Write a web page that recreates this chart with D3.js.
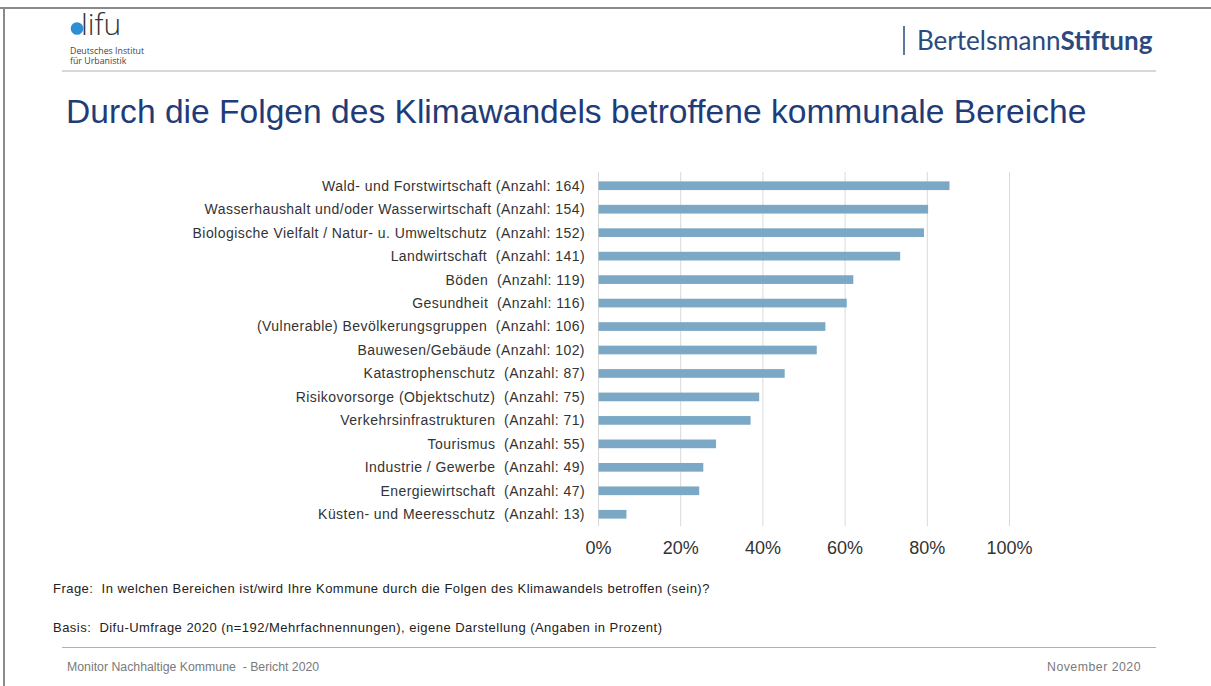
<!DOCTYPE html>
<html><head><meta charset="utf-8">
<script src="https://cdn.jsdelivr.net/npm/d3@7"></script>
<style>
html,body{margin:0;padding:0;background:#fff;}
svg text{white-space:pre;}
</style></head>
<body>
<svg id="c" width="1211" height="686"></svg>
<script>
const categories = [
  "Wald- und Forstwirtschaft (Anzahl: 164)",
  "Wasserhaushalt und/oder Wasserwirtschaft (Anzahl: 154)",
  "Biologische Vielfalt / Natur- u. Umweltschutz  (Anzahl: 152)",
  "Landwirtschaft  (Anzahl: 141)",
  "Böden  (Anzahl: 119)",
  "Gesundheit  (Anzahl: 116)",
  "(Vulnerable) Bevölkerungsgruppen  (Anzahl: 106)",
  "Bauwesen/Gebäude (Anzahl: 102)",
  "Katastrophenschutz  (Anzahl: 87)",
  "Risikovorsorge (Objektschutz)  (Anzahl: 75)",
  "Verkehrsinfrastrukturen  (Anzahl: 71)",
  "Tourismus  (Anzahl: 55)",
  "Industrie / Gewerbe  (Anzahl: 49)",
  "Energiewirtschaft  (Anzahl: 47)",
  "Küsten- und Meeresschutz  (Anzahl: 13)"
];
const percentValues = [85.4, 80.2, 79.2, 73.4, 62.0, 60.4, 55.2, 53.1, 45.3, 39.1, 37.0, 28.6, 25.5, 24.5, 6.8];
const tickValues = [0, 20, 40, 60, 80, 100];
const tickLabels = ["0%", "20%", "40%", "60%", "80%", "100%"];

const svg = d3.select("#c");
const F = "'Liberation Sans', Arial, sans-serif";

// frame
svg.append("line").attr("x1",0).attr("x2",1211).attr("y1",8).attr("y2",8).attr("stroke","#8a8a8a").attr("stroke-width",2);
svg.append("line").attr("x1",4).attr("x2",4).attr("y1",8).attr("y2",686).attr("stroke","#8a8a8a").attr("stroke-width",2);

// header separator & footer separator
svg.append("line").attr("x1",62).attr("x2",1156).attr("y1",71).attr("y2",71).attr("stroke","#b0b0b0").attr("stroke-width",1);
svg.append("line").attr("x1",62).attr("x2",1156).attr("y1",647.5).attr("y2",647.5).attr("stroke","#b0b0b0").attr("stroke-width",1);

// difu logo
svg.append("circle").attr("cx",77).attr("cy",28.5).attr("r",6.3).attr("fill","#2c8fd6");
svg.append("text").attr("x",81).attr("y",35).attr("font-family","'Open Sans', sans-serif").attr("font-size",30).attr("font-weight",300).attr("fill","#333").text("lifu");
svg.append("text").attr("x",70).attr("y",54).attr("font-family","'Open Sans', sans-serif").attr("font-size",8.8).attr("fill","#444").text("Deutsches Institut");
svg.append("text").attr("x",70).attr("y",64).attr("font-family","'Open Sans', sans-serif").attr("font-size",8.8).attr("fill","#444").text("für Urbanistik");

// Bertelsmann
svg.append("line").attr("x1",904).attr("x2",904).attr("y1",26).attr("y2",55).attr("stroke","#2a4a80").attr("stroke-width",1.5);
const bt = svg.append("text").attr("x",917).attr("y",50).attr("font-family","Lato, sans-serif").attr("font-size",26).attr("fill","#2a4a80");
bt.append("tspan").text("Bertelsmann");
bt.append("tspan").attr("font-weight",700).text("Stiftung");

// title
svg.append("text").attr("x",66).attr("y",123).attr("font-family",F).attr("font-size",33.6).attr("fill","#1f3c78")
  .text("Durch die Folgen des Klimawandels betroffene kommunale Bereiche");

// chart
const x = d3.scaleLinear().domain([0,100]).range([598.5,1009.5]);
const y = d3.scaleBand().domain(categories).range([174,526]).paddingInner(0.63).paddingOuter(0.315);

svg.append("g").selectAll("line").data(tickValues).join("line")
  .attr("x1",d=>x(d)).attr("x2",d=>x(d)).attr("y1",172).attr("y2",526)
  .attr("stroke","#d9d9d9").attr("stroke-width",1);

svg.append("g").selectAll("rect").data(percentValues).join("rect")
  .attr("x",x(0)).attr("y",(d,i)=>y(categories[i]))
  .attr("width",d=>x(d)-x(0)).attr("height",y.bandwidth())
  .attr("fill","#7aa8c5");

svg.append("g").selectAll("text").data(categories).join("text")
  .attr("x",585).attr("y",d=>y(d)+y.bandwidth()/2).attr("dy","0.35em")
  .attr("text-anchor","end").attr("font-family",F).attr("font-size",14).attr("letter-spacing",0.45).attr("fill","#333")
  .text(d=>d);

svg.append("g").selectAll("text").data(tickValues).join("text")
  .attr("x",d=>x(d)).attr("y",547.5).attr("dy","0.35em").attr("text-anchor","middle")
  .attr("font-family",F).attr("font-size",18).attr("fill","#333")
  .text((d,i)=>tickLabels[i]);

// notes
svg.append("text").attr("x",53).attr("y",588).attr("dy","0.35em").attr("font-family",F).attr("font-size",13).attr("letter-spacing",0.47).attr("fill","#222")
  .text("Frage:  In welchen Bereichen ist/wird Ihre Kommune durch die Folgen des Klimawandels betroffen (sein)?");
svg.append("text").attr("x",53).attr("y",627).attr("dy","0.35em").attr("font-family",F).attr("font-size",13).attr("letter-spacing",0.47).attr("fill","#222")
  .text("Basis:  Difu-Umfrage 2020 (n=192/Mehrfachnennungen), eigene Darstellung (Angaben in Prozent)");
svg.append("text").attr("x",67).attr("y",667).attr("dy","0.35em").attr("font-family",F).attr("font-size",12.3).attr("fill","#7a7a7a")
  .text("Monitor Nachhaltige Kommune  - Bericht 2020");
svg.append("text").attr("x",1141).attr("y",667).attr("dy","0.35em").attr("text-anchor","end").attr("font-family",F).attr("font-size",12.3).attr("letter-spacing",0.5).attr("fill","#7a7a7a")
  .text("November 2020");
</script>
</body></html>
